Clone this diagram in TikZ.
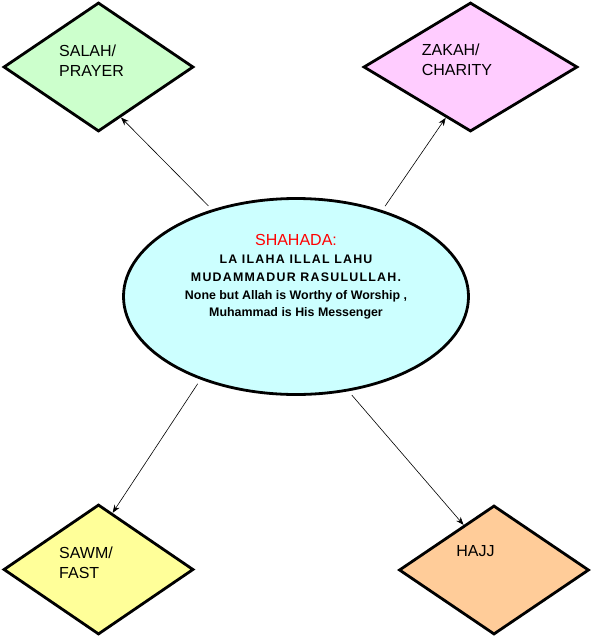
\documentclass[tikz,border=0pt]{standalone}
\usepackage{fontspec}
\setmainfont{Liberation Sans}
\usepackage{tikz}
\usetikzlibrary{shapes.geometric, arrows.meta}
\definecolor{verde}{HTML}{CCFFCC}
\definecolor{rosa}{HTML}{FFCCFF}
\definecolor{amarelo}{HTML}{FFFF99}
\definecolor{laranja}{HTML}{FFCC99}
\definecolor{ciano}{HTML}{CCFFFF}

\begin{document}
\begin{tikzpicture}[
    x=1pt, y=-1pt,
    pilar/.style={
        diamond, draw=black, line width=2.8pt,
        inner sep=0pt, minimum width=190pt, minimum height=129pt
    },
    rotulo/.style={
        align=left, inner sep=0pt,
        font=\fontsize{16}{20}\selectfont
    },
    centro/.style={
        ellipse, draw=black, line width=2.8pt, fill=ciano,
        inner sep=0pt, minimum width=345pt, minimum height=196pt
    },
    texto/.style={
        align=center, inner sep=0pt,
        font=\fontsize{12.4}{17.8}\selectfont\bfseries
    },
    seta/.style={-{Stealth[length=8pt, width=6pt]}, line width=0.6pt, shorten <=5pt}
]
\useasboundingbox (0,0) rectangle (593,638);

\node[pilar, fill=verde, label={[rotulo, name=salahtxt, xshift=-7pt, yshift=6.5pt]center:SALAH/\\PRAYER}] (salah) at (98.5,67) {};
\node[pilar, fill=rosa, minimum width=214pt, label={[rotulo, name=zakahtxt, xshift=-13.5pt, yshift=7.5pt]center:ZAKAH/\\CHARITY}] (zakah) at (470.5,67) {};
\node[pilar, fill=amarelo, minimum height=130pt, label={[rotulo, name=sawmtxt, xshift=-12.5pt, yshift=6.5pt]center:SAWM/\\FAST}] (sawm) at (98.5,569.5) {};
\node[pilar, fill=laranja, label={[rotulo, name=hajjtxt, xshift=-18.5pt, yshift=19pt]center:HAJJ}] (hajj) at (494,570) {};

\node[centro, label={[texto, name=shahadatxt, yshift=19.5pt]center:{\color{red}\fontsize{16}{18}\selectfont\mdseries SHAHADA:}\\
    {\addfontfeatures{LetterSpace=10}LA ILAHA ILLAL LAHU}\\
    {\addfontfeatures{LetterSpace=10}MUDAMMADUR RASULULLAH.}\\
    None but Allah is Worthy of Worship ,\\
    Muhammad is His Messenger}] (shahada) at (296,296.5) {};

\draw[seta] (shahada.134) -- (salah.-66);
\draw[seta] (shahada.45.5) -- (zakah.-116.6);
\draw[seta] (shahada.-139.7) -- (sawm.76.6);
\draw[seta] (shahada.-61.5) -- (hajj.124);
\end{tikzpicture}
\end{document}
